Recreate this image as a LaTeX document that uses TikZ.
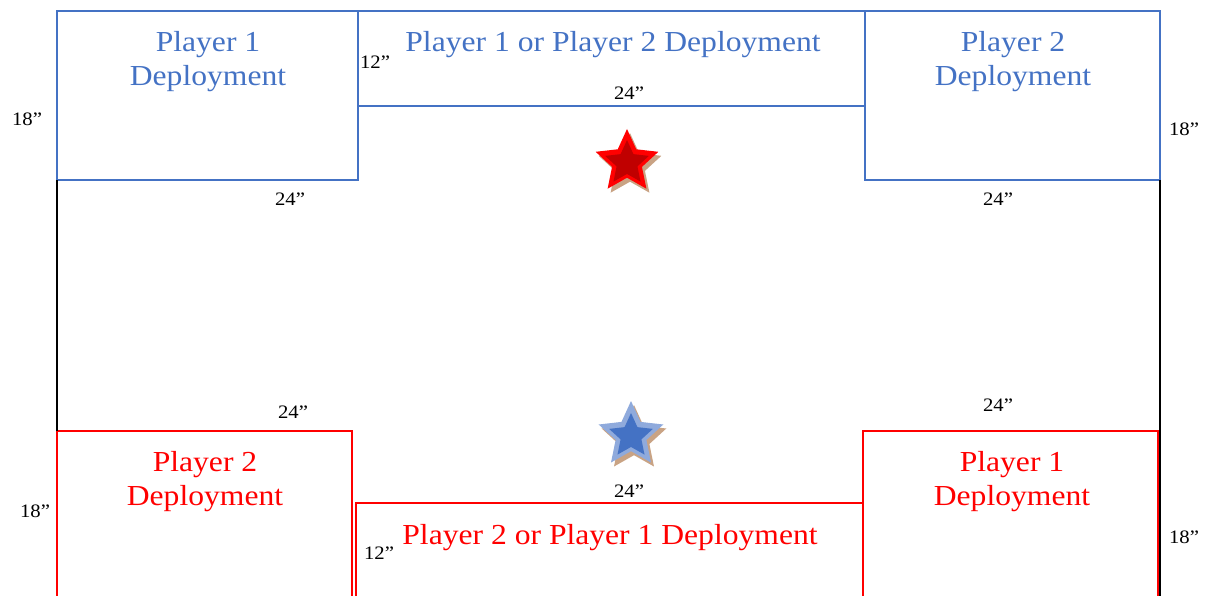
\documentclass[tikz,border=0pt]{standalone}
\usepackage{fontspec}
\setmainfont[FakeStretch=1.09]{Liberation Serif}
\usetikzlibrary{shapes.geometric}
\definecolor{zoneblue}{HTML}{4472C4}
\definecolor{zonered}{HTML}{FF0000}
\definecolor{starshadow}{HTML}{C9A384}
\definecolor{starredin}{HTML}{C00000}
\definecolor{starbluelt}{HTML}{8FAADC}
\tikzset{
  zone/.style={draw, line width=2pt, inner sep=0pt, outer sep=0pt, anchor=north west},
  bluezone/.style={zone, draw=zoneblue},
  redzone/.style={zone, draw=zonered},
  zonelabel/.style={font=\fontsize{29}{34}\selectfont, align=center, inner sep=0pt},
  dimlabel/.style={font=\fontsize{19}{22}\selectfont, text=black, inner sep=0pt},
  edge/.style={draw=black, line width=1.6pt},
  starshape/.style={star, star points=5, star point ratio=2.1, inner sep=0pt, draw=none}
}
\begin{document}
\begin{tikzpicture}[x=1pt, y=-1pt]
\useasboundingbox (0,0) rectangle (1207,596);

% deployment zones
\node[bluezone, minimum width=301, minimum height=169] (b1) at (57,11) {};
\node[bluezone, minimum width=507, minimum height=95] (bm) at (358,11) {};
\node[bluezone, minimum width=295, minimum height=169] (b2) at (865,11) {};

\node[redzone, minimum width=295, minimum height=190] (r2) at (57,431) {};
\node[redzone, minimum width=507, minimum height=120] (rm) at (356,503) {};
\node[redzone, minimum width=295, minimum height=190] (r1) at (863,431) {};

% table edges between the zones
\coordinate (rbottom) at (1160,596);
\draw[edge] (b1.south west) -- (r2.north west);
\draw[edge] (b2.south east) -- (rbottom);

% zone titles
\node[zonelabel, text=zoneblue] (t1) at (208,62) {Player 1\\Deployment};
\node[zonelabel, text=zoneblue] (tm) at (613,45) {Player 1 or Player 2 Deployment};
\node[zonelabel, text=zoneblue] (t2) at (1013,62) {Player 2\\Deployment};
\node[zonelabel, text=zonered] (t3) at (205,482) {Player 2\\Deployment};
\node[zonelabel, text=zonered] (t4) at (610,538) {Player 2 or Player 1 Deployment};
\node[zonelabel, text=zonered] (t5) at (1012,482) {Player 1\\Deployment};

% dimensions
\node[dimlabel] (d1) at (27,119) {18”};
\node[dimlabel] (d2) at (375,62) {12”};
\node[dimlabel] (d3) at (629,93) {24”};
\node[dimlabel] (d4) at (1184,129) {18”};
\node[dimlabel] (d5) at (290,199) {24”};
\node[dimlabel] (d6) at (998,199) {24”};
\node[dimlabel] (d7) at (293,412) {24”};
\node[dimlabel] (d8) at (998,405) {24”};
\node[dimlabel] (d9) at (629,491) {24”};
\node[dimlabel] (d10) at (35,511) {18”};
\node[dimlabel] (d11) at (379,553) {12”};
\node[dimlabel] (d12) at (1184,537) {18”};

% objective markers
\node[starshape, fill=starshadow, minimum size=66pt] (rsh) at (630,166) {};
\node[starshape, fill=zonered, minimum size=66pt] (rs) at (627,162) {};
\node[starshape, fill=starredin, minimum size=46pt] (rsi) at (627,163) {};

\node[starshape, fill=starshadow, minimum size=68pt] (bsh) at (634,439) {};
\node[starshape, fill=starbluelt, minimum size=68pt] (bs) at (631,435) {};
\node[starshape, fill=zoneblue, minimum size=46pt] (bsi) at (631,436) {};
\end{tikzpicture}
\end{document}
